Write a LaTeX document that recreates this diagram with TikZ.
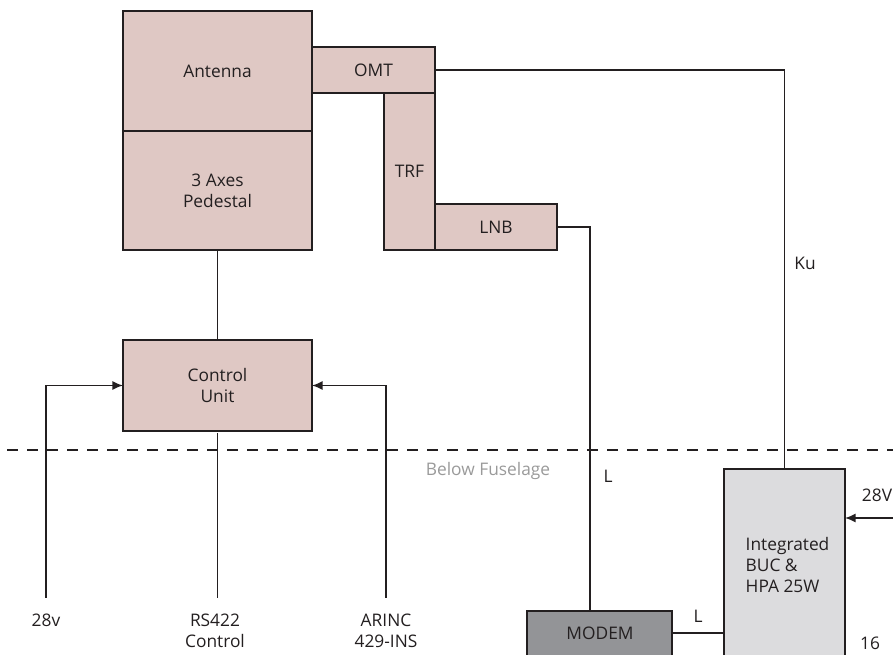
\documentclass[tikz,border=0pt]{standalone}
\usepackage{fontspec}
\setmainfont{Open Sans}
\usetikzlibrary{arrows.meta,positioning}
\definecolor{boxpink}{HTML}{DFC8C4}
\definecolor{bucgray}{HTML}{DCDCDE}
\definecolor{modemgray}{HTML}{939497}
\definecolor{linedark}{HTML}{231F20}
\definecolor{notegray}{HTML}{9A9A9A}
\begin{document}
\begin{tikzpicture}[x=0.75pt,y=-0.75pt,color=linedark,
    font=\fontsize{13}{15.5}\selectfont,
    unit/.style={draw,fill=boxpink,line width=1.4pt,inner sep=0pt,outer sep=0pt,align=center},
    wire/.style={line width=1.3pt},
    feed/.style={wire,-{Latex[length=8pt,width=7pt]}}]
    \useasboundingbox (0,0) rectangle (893,655);
    \clip (0,0) rectangle (893,655);
    \node[unit,minimum width=141.75pt,minimum height=90pt] (ant) at (217.5,71) {Antenna};
    \node[unit,minimum width=141.75pt,minimum height=89.25pt,below=0pt of ant] (ped) {3 Axes\\Pedestal};
    \node[unit,minimum width=92.25pt,minimum height=34.5pt] (omt) at (373.5,70) {OMT};
    \node[unit,minimum width=38.25pt,minimum height=117.75pt,below left=0pt and 0pt of omt.south east] (trf) {TRF};
    \node[unit,minimum width=91.5pt,minimum height=34.5pt,above right=0pt and 0pt of trf.south east] (lnb) {LNB};
    \node[unit,minimum width=141.75pt,minimum height=68.25pt] (ctrl) at (217.5,385.5) {Control\\Unit};
    \node[unit,fill=bucgray,minimum width=90.75pt,minimum height=173.25pt,anchor=north] (buc) at (784.5,469) {};
    \node[anchor=west,align=left] (buctext) at (741,565) {Integrated\\BUC \&\\HPA 25W};
    \node[unit,fill=modemgray,minimum width=108.75pt,minimum height=51.75pt,anchor=north] (modem) at (599.5,611) {};
    \node (modemtext) at (600,633) {MODEM};
    \draw[wire,dash pattern=on 8pt off 7pt] (7,450) coordinate (fuseL) -- (893,450) coordinate (fuseR);
    \node[text=notegray] (below) at (488,471) {Below Fuselage};
    \coordinate (in28) at (46,598);
    \coordinate (inrs) at (217.5,598);
    \coordinate (inarinc) at (386,598);
    \coordinate (pwr) at (893,518);
    \draw[wire] (ped.south) -- (ctrl.north);
    \draw[wire] (omt.east) -| (buc.north);
    \draw[wire] (lnb.east) -| ([xshift=-7pt]modem.north);
    \draw[feed] (in28) |- (ctrl.west);
    \draw[wire] ([yshift=-1.5pt]ctrl.south) -- (inrs);
    \draw[feed] (inarinc) |- (ctrl.east);
    \draw[feed] (pwr) -- (pwr -| buc.east);
    \draw[wire] ([yshift=9.4pt]modem.east) -- ([yshift=9.4pt]modem.east -| buc.west);
    \node (l28v) at (46,620) {28v};
    \node[align=center] (lrs) at (215,631) {RS422\\Control};
    \node[align=center] (larinc) at (386,631) {ARINC\\429-INS};
    \node (lrx) at (608,476) {L};
    \node (ltx) at (698,616) {L};
    \node (lku) at (805,263) {Ku};
    \node (l28V) at (877,495) {28V};
    \node (lpage) at (870,643) {16};
\end{tikzpicture}
\end{document}
